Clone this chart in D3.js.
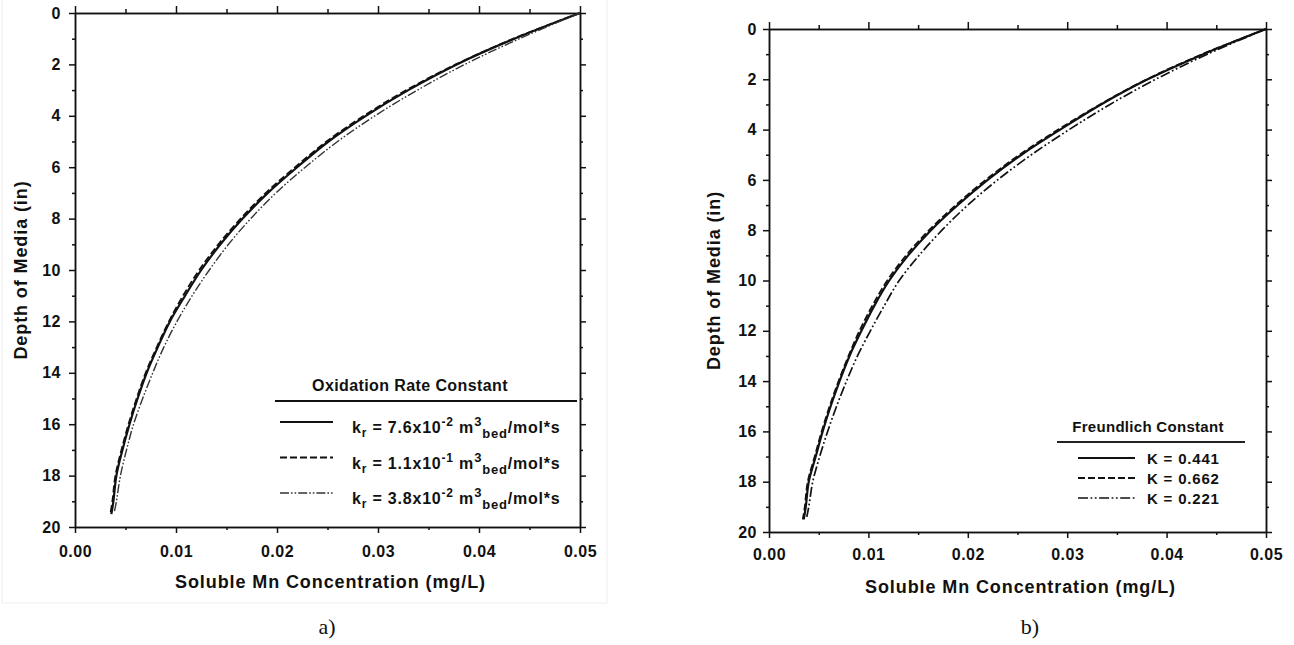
<!DOCTYPE html>
<html>
<head>
<meta charset="utf-8">
<script src="https://cdn.jsdelivr.net/npm/d3@7"></script>
<style>
  body { margin: 0; background: #fff; }
  svg text { font-family: "Liberation Sans", Arial, sans-serif; font-weight: bold; fill: #111; }
  .axis path, .axis line { stroke: #111; stroke-width: 1.5; }
  .axis text { font-size: 16px; letter-spacing: 0.5px; }
  .panel-tag { font-family: "Liberation Serif", "Times New Roman", serif !important; font-weight: normal !important; font-size: 22px; }
</style>
</head>
<body>
<svg id="chart" width="1294" height="645"></svg>
<script>
// depth of media (in), shared by every curve
var depth = [0, 1, 2, 3, 4, 5, 6, 7, 8, 9, 10, 11, 12, 13, 14, 15, 16, 17, 18, 19, 19.5];

// a) oxidation rate constant runs, soluble Mn (mg/L)
var rateSolid   = [0.0500, 0.0435, 0.0378, 0.0330, 0.0288, 0.0251, 0.0220, 0.0191, 0.0166, 0.0144, 0.0125, 0.0109, 0.0094, 0.0082, 0.0071, 0.0062, 0.0054, 0.0047, 0.0041, 0.0038, 0.0036];
var rateDashed  = [0.0500, 0.0434, 0.0377, 0.0328, 0.0286, 0.0249, 0.0218, 0.0189, 0.0164, 0.0142, 0.0123, 0.0107, 0.0093, 0.0081, 0.0070, 0.0061, 0.0053, 0.0046, 0.0040, 0.0037, 0.0035];
var rateDashDot = [0.0500, 0.0440, 0.0386, 0.0339, 0.0297, 0.0260, 0.0228, 0.0199, 0.0174, 0.0152, 0.0133, 0.0116, 0.0101, 0.0088, 0.0077, 0.0067, 0.0058, 0.0051, 0.0045, 0.0041, 0.0039];

// b) Freundlich constant runs
var freundSolid   = [0.0500, 0.0437, 0.0381, 0.0334, 0.0293, 0.0254, 0.0220, 0.0190, 0.0163, 0.0140, 0.0121, 0.0106, 0.0093, 0.0081, 0.0071, 0.0062, 0.0054, 0.0047, 0.0040, 0.0037, 0.0035];
var freundDashed  = [0.0500, 0.0436, 0.0380, 0.0333, 0.0291, 0.0252, 0.0218, 0.0188, 0.0161, 0.0138, 0.0119, 0.0104, 0.0091, 0.0080, 0.0070, 0.0061, 0.0053, 0.0046, 0.0039, 0.0036, 0.0034];
var freundDashDot = [0.0500, 0.0441, 0.0389, 0.0343, 0.0302, 0.0264, 0.0230, 0.0200, 0.0174, 0.0151, 0.0131, 0.0116, 0.0102, 0.0089, 0.0078, 0.0068, 0.0059, 0.0051, 0.0044, 0.0040, 0.0038];

var xTicks = [0, 0.01, 0.02, 0.03, 0.04, 0.05];
var xMinor = [0.005, 0.015, 0.025, 0.035, 0.045];
var yTicks = [0, 2, 4, 6, 8, 10, 12, 14, 16, 18, 20];
var yMinor = [1, 3, 5, 7, 9, 11, 13, 15, 17, 19];

var rateTitle = "Oxidation Rate Constant";
var rateLabels = [
  { mant: "7.6x10", exp: "-2" },
  { mant: "1.1x10", exp: "-1" },
  { mant: "3.8x10", exp: "-2" }
];
var freundTitle = "Freundlich Constant";
var freundLabels = ["K = 0.441", "K = 0.662", "K = 0.221"];

var rateStyles = [
  { dash: null, width: 2.2, color: "#111" },
  { dash: "7,3", width: 1.8, color: "#111" },
  { dash: "9,2,1.6,2,1.6,2", width: 1.4, color: "#333" }
];
var freundStyles = [
  { dash: null, width: 2.2, color: "#111" },
  { dash: "7,3", width: 1.8, color: "#111" },
  { dash: "10,2.5,1.8,2.5,1.8,2.5", width: 1.7, color: "#111" }
];

var svg = d3.select("#chart");

// faint scan border round panel a)
svg.append("rect")
  .attr("x", 2).attr("y", -2).attr("width", 605).attr("height", 605)
  .attr("fill", "none").attr("stroke", "#eeeeee").attr("stroke-width", 1);

function drawPanel(p) {
  var x = d3.scaleLinear().domain([0, 0.05]).range([p.left, p.right]);
  var y = d3.scaleLinear().domain([0, 20]).range([p.top, p.bottom]);
  var g = svg.append("g");

  // bottom
  g.append("g").attr("class", "axis")
    .attr("transform", "translate(0," + p.bottom + ")")
    .call(d3.axisBottom(x).tickValues(xTicks).tickFormat(d3.format(".2f"))
      .tickSize(6).tickSizeOuter(0).tickPadding(p.xPad));
  g.append("g").attr("class", "axis")
    .attr("transform", "translate(0," + p.bottom + ")")
    .call(d3.axisBottom(x).tickValues(xMinor).tickFormat("").tickSize(3).tickSizeOuter(0));
  // top
  g.append("g").attr("class", "axis")
    .attr("transform", "translate(0," + p.top + ")")
    .call(d3.axisTop(x).tickValues(xTicks).tickFormat("").tickSize(7).tickSizeOuter(0));
  g.append("g").attr("class", "axis")
    .attr("transform", "translate(0," + p.top + ")")
    .call(d3.axisTop(x).tickValues(xMinor).tickFormat("").tickSize(4).tickSizeOuter(0));
  // left
  g.append("g").attr("class", "axis")
    .attr("transform", "translate(" + p.left + ",0)")
    .call(d3.axisLeft(y).tickValues(yTicks).tickFormat(d3.format("d"))
      .tickSize(6).tickSizeOuter(0).tickPadding(p.yPad));
  g.append("g").attr("class", "axis")
    .attr("transform", "translate(" + p.left + ",0)")
    .call(d3.axisLeft(y).tickValues(yMinor).tickFormat("").tickSize(3).tickSizeOuter(0));
  // right
  g.append("g").attr("class", "axis")
    .attr("transform", "translate(" + p.right + ",0)")
    .call(d3.axisRight(y).tickValues(yTicks).tickFormat("").tickSize(6).tickSizeOuter(0));
  g.append("g").attr("class", "axis")
    .attr("transform", "translate(" + p.right + ",0)")
    .call(d3.axisRight(y).tickValues(yMinor).tickFormat("").tickSize(3).tickSizeOuter(0));

  var line = d3.line()
    .x(function(d) { return x(d[0]); })
    .y(function(d) { return y(d[1]); })
    .curve(d3.curveCatmullRom);

  p.series.forEach(function(vals, i) {
    var st = p.styles[i];
    var pts = vals.map(function(v, j) { return [v, depth[j]]; });
    if (i == 2) pts = pts.slice(0, pts.length - 1).concat([[vals[vals.length - 1], 19.4]]);
    g.append("path")
      .attr("d", line(pts))
      .attr("fill", "none")
      .attr("stroke", st.color)
      .attr("stroke-width", st.width)
      .attr("stroke-dasharray", st.dash);
  });

  // axis titles
  g.append("text")
    .attr("x", (p.left + p.right) / 2 + 3).attr("y", p.bottom + 61)
    .attr("text-anchor", "middle")
    .style("font-size", "18px").style("letter-spacing", "0.9px")
    .text("Soluble Mn Concentration (mg/L)");
  g.append("text")
    .attr("transform", "translate(" + p.yTitleX + "," + ((p.top + p.bottom) / 2) + ") rotate(-90)")
    .attr("text-anchor", "middle")
    .style("font-size", "18px").style("letter-spacing", "0.9px")
    .text("Depth of Media (in)");

  g.append("text")
    .attr("class", "panel-tag")
    .attr("x", p.tagX).attr("y", 634)
    .attr("text-anchor", "middle")
    .text(p.tag);
  return g;
}

var gA = drawPanel({
  left: 75, right: 580, top: 13, bottom: 527, xPad: 13, yPad: 8, yTitleX: 27,
  series: [rateSolid, rateDashed, rateDashDot], styles: rateStyles, tag: "a)", tagX: 327
});
var gB = drawPanel({
  left: 769, right: 1266, top: 29, bottom: 532, xPad: 11, yPad: 6, yTitleX: 720,
  series: [freundSolid, freundDashed, freundDashDot], styles: freundStyles, tag: "b)", tagX: 1030
});

// legend a)
gA.append("text")
  .attr("x", 410).attr("y", 391).attr("text-anchor", "middle")
  .style("font-size", "16px").style("letter-spacing", "0.4px")
  .text(rateTitle);
gA.append("line")
  .attr("x1", 275).attr("x2", 577).attr("y1", 401).attr("y2", 401)
  .attr("stroke", "#111").attr("stroke-width", 2);
rateLabels.forEach(function(d, i) {
  var base = 433 + i * 35.5;
  var st = rateStyles[i];
  gA.append("line")
    .attr("x1", 280).attr("x2", 333).attr("y1", base - 11).attr("y2", base - 11)
    .attr("stroke", st.color).attr("stroke-width", st.width)
    .attr("stroke-dasharray", st.dash);
  var t = gA.append("text").attr("x", 352).attr("y", base)
    .style("font-size", "16px").style("letter-spacing", "0.8px");
  t.append("tspan").text("k");
  t.append("tspan").attr("dy", 4).style("font-size", "12px").text("r");
  t.append("tspan").attr("dy", -4).text(" = " + d.mant);
  t.append("tspan").attr("dy", -7).style("font-size", "12px").text(d.exp);
  t.append("tspan").attr("dy", 7).text(" m");
  t.append("tspan").attr("dy", -7).style("font-size", "13px").text("3");
  t.append("tspan").attr("dy", 12).style("font-size", "13px").text("bed");
  t.append("tspan").attr("dy", -5).text("/mol*s");
});

// legend b)
gB.append("text")
  .attr("x", 1148).attr("y", 432).attr("text-anchor", "middle")
  .style("font-size", "15px").style("letter-spacing", "0.3px")
  .text(freundTitle);
gB.append("line")
  .attr("x1", 1057).attr("x2", 1245).attr("y1", 442).attr("y2", 442)
  .attr("stroke", "#222").attr("stroke-width", 2);
freundLabels.forEach(function(d, i) {
  var base = 464 + i * 20;
  var st = freundStyles[i];
  gB.append("line")
    .attr("x1", 1078).attr("x2", 1135).attr("y1", base - 6).attr("y2", base - 6)
    .attr("stroke", st.color).attr("stroke-width", st.width)
    .attr("stroke-dasharray", st.dash);
  gB.append("text").attr("x", 1147).attr("y", base)
    .style("font-size", "15px").style("letter-spacing", "0.8px")
    .text(d);
});
</script>
</body>
</html>
